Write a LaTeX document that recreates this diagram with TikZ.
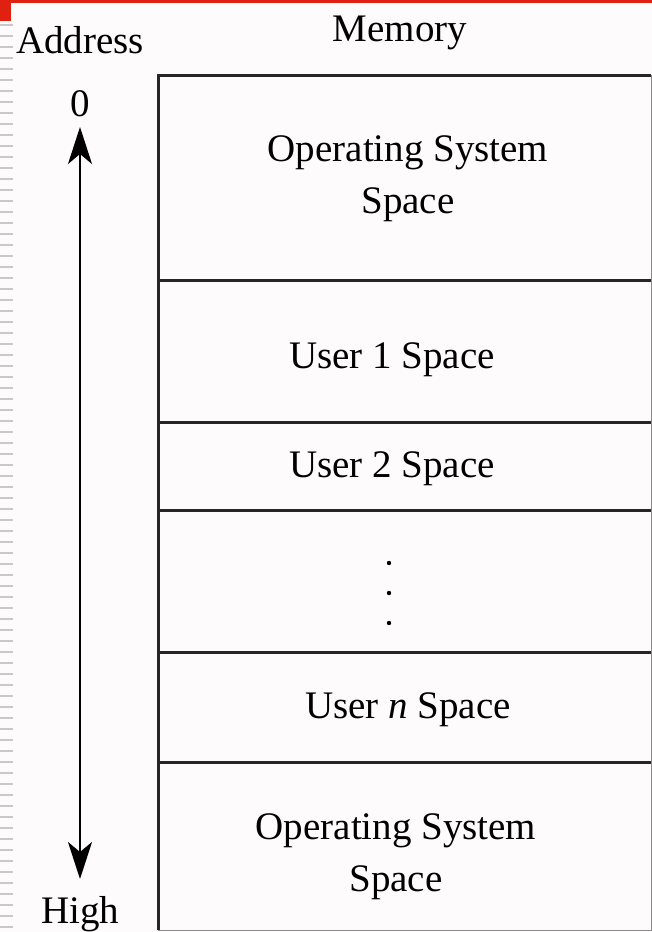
\documentclass[tikz,border=0pt]{standalone}
\usepackage{fontspec}
\setmainfont{Liberation Serif}
\usetikzlibrary{arrows.meta}
\definecolor{bgc}{HTML}{FEFBFD}
\definecolor{slidered}{HTML}{E02010}
\definecolor{dashgrey}{HTML}{C8C8C8}
\begin{document}
\begin{tikzpicture}[x=1pt,y=-1pt,
  lbl/.style={font=\fontsize{39}{52}\selectfont, inner sep=0pt, align=center},
  cell/.style={minimum width=493pt, inner sep=0pt, anchor=north west},
  rule/.style={draw=black!85, line width=3pt},
  edge/.style={draw=black!45, line width=1.2pt},
  axis/.style={line width=2.2pt, {Stealth[length=37pt,width=24pt,inset=10pt]}-{Stealth[length=37pt,width=24pt,inset=10pt]}}
]
\useasboundingbox (0,0) rectangle (652,932);
\fill[bgc] (0,0) rectangle (652,932);
% slide decoration
\fill[slidered] (0,0) rectangle (652,3);
\fill[slidered] (0,0) rectangle (11,21);
\foreach \k in {0,...,82} {
  \fill[dashgrey] (0,{24+11*\k}) rectangle (13,{26+11*\k});
}
% memory cells
\node[cell, minimum height=205pt] (os1) at (158,75) {};
\node[cell, minimum height=142pt] (u1) at (158,280) {};
\node[cell, minimum height=88pt] (u2) at (158,422) {};
\node[cell, minimum height=142pt] (dots) at (158,510) {};
\node[cell, minimum height=110pt] (un) at (158,652) {};
\node[cell, minimum height=168pt] (os2) at (158,762) {};
\draw[edge] (os1.north east) -- (os2.south east) -- (os2.south west);
\foreach \c in {os1,u1,u2,dots,un,os2} {
  \draw[rule] (\c.north west) -- (\c.north east);
}
\draw[rule] ([yshift=1.5pt]os1.north west) -- (os2.south west);
% labels
\node[lbl] (t_os1) at (408,179) {Operating System\\Space};
\node[lbl] (t_u1) at (392,360) {User 1 Space};
\node[lbl] (t_u2) at (392,469) {User 2 Space};
\node[lbl] (t_un) at (408,710) {User \textit{n} Space};
\node[lbl] (t_os2) at (396,857) {Operating System\\Space};
\foreach \yy in {563,593,623} {
  \fill (389,\yy) circle (2.2pt);
}
\node[lbl] (mem) at (400,33) {Memory};
\node[lbl] (addr) at (80,40) {Address};
\node[lbl] (zero) at (80,104) {0};
\node[lbl] (high) at (80,914) {High};
\coordinate (top) at (80,127);
\coordinate (bot) at (80,879);
\draw[axis] (top) -- (bot);
\end{tikzpicture}
\end{document}
